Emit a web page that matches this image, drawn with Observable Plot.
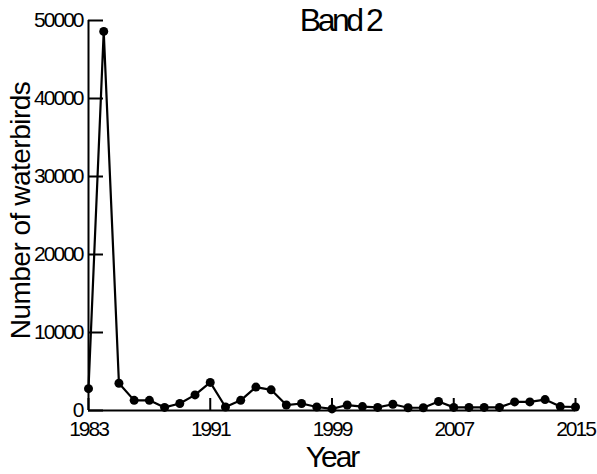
<!DOCTYPE html>
<html>
<head>
<meta charset="utf-8">
<script src="https://cdn.jsdelivr.net/npm/d3@7"></script>
<script src="https://cdn.jsdelivr.net/npm/@observablehq/plot@0.6"></script>
<style>
  html, body { margin: 0; padding: 0; background: #fff; }
</style>
</head>
<body>
<div id="chart"></div>
<script>
// Annual waterbird counts, Band 2
const years = [1983, 1984, 1985, 1986, 1987, 1988, 1989, 1990, 1991, 1992, 1993,
  1994, 1995, 1996, 1997, 1998, 1999, 2000, 2001, 2002, 2003, 2004, 2005,
  2006, 2007, 2008, 2009, 2010, 2011, 2012, 2013, 2014, 2015];
const counts = [2800, 48600, 3500, 1300, 1300, 400, 900, 2000, 3600, 450, 1300,
  3000, 2650, 700, 900, 450, 200, 700, 500, 400, 800, 350, 350,
  1150, 400, 400, 400, 400, 1100, 1100, 1400, 500, 450];
const xTicks = [1983, 1991, 1999, 2007, 2015];
const yTicks = [0, 10000, 20000, 30000, 40000, 50000];
const title = "Band 2";
const xLabel = "Year";
const yLabel = "Number of waterbirds";

const data = years.map((year, i) => ({year, count: counts[i]}));

const font = "'Liberation Sans', Arial, sans-serif";

const chart = Plot.plot({
  width: 597,
  height: 474,
  marginLeft: 88,
  marginRight: 22,
  marginTop: 20,
  marginBottom: 64,
  style: {background: "#fff", color: "#000"},
  x: {domain: [1983, 2015]},
  y: {domain: [0, 50000]},
  marks: [
    // axis lines along the left and bottom edges
    Plot.ruleX([1983], {stroke: "#000", strokeWidth: 2}),
    Plot.ruleY([0], {stroke: "#000", strokeWidth: 2}),
    // inward-pointing ticks with labels outside
    Plot.axisY({
      ticks: yTicks, tickSize: -15, tickPadding: 21, strokeWidth: 2,
      tickFormat: d => String(d), label: null,
      fontFamily: font, fontSize: 21
    }),
    Plot.axisX({
      ticks: xTicks, tickSize: -12, tickPadding: 23, strokeWidth: 2,
      tickFormat: d => String(d), label: null,
      fontFamily: font, fontSize: 21
    }),
    Plot.line(data, {x: "year", y: "count", stroke: "#000", strokeWidth: 2.2}),
    Plot.dot(data, {x: "year", y: "count", fill: "#000", r: 4.5}),
    Plot.text([title], {
      frameAnchor: "top", lineAnchor: "top", dx: 8, dy: -12,
      fontFamily: font, fontSize: 32, fill: "#000"
    }),
    Plot.text([xLabel], {
      frameAnchor: "bottom", lineAnchor: "top", dy: 35,
      fontFamily: font, fontSize: 30, fill: "#000"
    }),
    Plot.text([yLabel], {
      frameAnchor: "left", textAnchor: "middle", lineAnchor: "top",
      rotate: -90, dx: -78, dy: -5,
      fontFamily: font, fontSize: 28, fill: "#000"
    })
  ]
});

// condensed letter spacing for the horizontal labels
const tickLabels = new Set([...xTicks, ...yTicks].map(String));
d3.select(chart).selectAll("text").each(function () {
  const t = this.textContent;
  if (t === title) this.style.letterSpacing = "-3.5px";
  else if (t === xLabel) this.style.letterSpacing = "-2px";
  else if (t === yLabel) this.style.letterSpacing = "-0.5px";
  else if (tickLabels.has(t)) this.style.letterSpacing = "-2px";
});

document.getElementById("chart").appendChild(chart);
</script>
</body>
</html>
